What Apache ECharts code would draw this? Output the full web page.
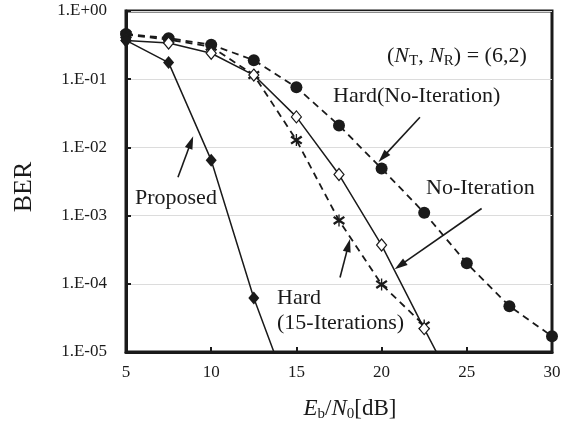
<!DOCTYPE html>
<html>
<head>
<meta charset="utf-8">
<script src="https://cdn.jsdelivr.net/npm/echarts@6/dist/echarts.min.js"></script>
<style>
  html, body { margin: 0; padding: 0; background: #fff; }
  #chart { width: 570px; height: 427px; }
</style>
</head>
<body>
<div id="chart"></div>
<script>
const chart = echarts.init(document.getElementById('chart'));

// Eb/N0 [dB]
const snr = [5, 7.5, 10, 12.5, 15, 17.5, 20, 22.5, 25, 27.5, 30];

// BER (values below 1e-5 are clipped by the axis)
const proposed = [0.37, 0.175, 0.0065, 6.2e-5, 1.3e-6];
const noIteration = [0.37, 0.34, 0.24, 0.115, 0.028, 0.0040, 3.7e-4, 2.2e-5, 1.4e-6];
const hard15 = [0.45, 0.38, 0.30, 0.115, 0.0128, 8.5e-4, 9.8e-5, 2.45e-5];
const hardNoIter = [0.46, 0.40, 0.32, 0.19, 0.076, 0.021, 0.0049, 0.0011, 2.0e-4, 4.7e-5, 1.7e-5];

const yTicks = [1, 1e-1, 1e-2, 1e-3, 1e-4, 1e-5];

// annotation arrows, [from, to] in data coordinates
const arrows = [
  [[22.25, 0.0277], [20.08, 0.0072]],
  [[25.87, 0.00127], [21.08, 1.86e-4]],
  [[8.05, 0.00365], [8.81, 0.0119]],
  [[17.56, 1.24e-4], [18.05, 3.66e-4]]
];

const FONT = '"Liberation Serif", "DejaVu Serif", serif';
const INK = '#1a1a1a';

const pairs = (ys) => ys.map((y, i) => [snr[i], y]);

const asterisk = 'path://M9,0 L11,0 L11,20 L9,20 Z M1,5.5 L3,2.5 L19,14.5 L17,17.5 Z M17,2.5 L19,5.5 L3,17.5 L1,14.5 Z';

const expLabel = (v) => {
  const e = Math.round(Math.log10(v));
  const s = e < 0 ? '-' : '+';
  const a = Math.abs(e);
  return '1.E' + s + (a < 10 ? '0' : '') + a;
};

const note = (text, x, y) => ({
  type: 'text', x, y,
  style: { text, font: '22px ' + FONT, fill: INK, align: 'left', verticalAlign: 'middle' }
});

chart.setOption({
  animation: false,
  backgroundColor: '#fff',
  grid: {
    left: 126, right: 18, top: 11, bottom: 75,
    show: true, borderColor: INK, borderWidth: 3
  },
  xAxis: {
    type: 'value',
    min: 5, max: 30, interval: 5,
    axisLine: { lineStyle: { color: INK, width: 3 } },
    axisTick: { inside: true, length: 5, lineStyle: { color: INK, width: 2 } },
    splitLine: { show: false },
    axisLabel: { fontFamily: FONT, fontSize: 17, color: INK, margin: 12 }
  },
  yAxis: {
    type: 'log',
    logBase: 10,
    min: 1e-5, max: 1,
    axisLine: { lineStyle: { color: INK, width: 3 } },
    axisTick: { inside: true, length: 5, lineStyle: { color: INK, width: 2 } },
    splitLine: { show: true, lineStyle: { color: '#dcdcdc', width: 1 } },
    minorTick: { show: false },
    axisLabel: {
      fontFamily: FONT, fontSize: 17, color: INK, margin: 19,
      formatter: (v) => (yTicks.some((t) => Math.abs(Math.log10(t) - Math.log10(v)) < 1e-6) ? expLabel(v) : '')
    }
  },
  series: [
    {
      name: 'Hard(No-Iteration)',
      type: 'line',
      data: pairs(hardNoIter),
      symbol: 'circle',
      symbolSize: 12,
      itemStyle: { color: INK },
      lineStyle: { color: INK, width: 1.8, type: [7, 5] },
      z: 3
    },
    {
      name: 'Hard(15-Iterations)',
      type: 'line',
      data: pairs(hard15),
      symbol: asterisk,
      symbolSize: 12,
      itemStyle: { color: INK },
      lineStyle: { color: INK, width: 1.8, type: [7, 5] },
      z: 4
    },
    {
      name: 'No-Iteration',
      type: 'line',
      data: pairs(noIteration),
      symbol: 'diamond',
      symbolSize: [10, 12],
      itemStyle: { color: '#fff', borderColor: INK, borderWidth: 1.2 },
      lineStyle: { color: INK, width: 1.5 },
      z: 5
    },
    {
      name: 'Proposed',
      type: 'line',
      data: pairs(proposed),
      symbol: 'diamond',
      symbolSize: [11, 13],
      itemStyle: { color: INK },
      lineStyle: { color: INK, width: 1.5 },
      z: 6,
      markLine: {
        silent: true,
        symbol: ['none', 'triangle'],
        symbolSize: [8, 13],
        lineStyle: { color: INK, width: 1.6, type: 'solid' },
        label: { show: false },
        data: arrows.map(([a, b]) => [{ coord: a }, { coord: b }])
      }
    }
  ],
  graphic: [
    {
      type: 'text', x: 387, y: 56,
      style: {
        text: '{n|(}{i|N}{sub|T}{n|, }{i|N}{sub|R}{n|) = (6,2)}',
        align: 'left', verticalAlign: 'middle',
        rich: {
          i: { fontFamily: FONT, fontStyle: 'italic', fontSize: 22, fill: INK },
          n: { fontFamily: FONT, fontSize: 22, fill: INK },
          sub: { fontFamily: FONT, fontSize: 15, fill: INK, padding: [10, 0, 0, 0] }
        }
      }
    },
    note('Hard(No-Iteration)', 333, 96),
    note('No-Iteration', 426, 188),
    note('Proposed', 135, 198),
    note('Hard', 277, 298),
    note('(15-Iterations)', 277, 323),
    {
      type: 'text', x: 24, y: 187, rotation: Math.PI / 2,
      style: { text: 'BER', font: '26px ' + FONT, fill: INK, align: 'center', verticalAlign: 'middle' }
    },
    {
      type: 'text', x: 350, y: 409,
      style: {
        text: '{i|E}{sub|b}{n|/}{i|N}{sub|0}{n|[dB]}',
        align: 'center', verticalAlign: 'middle',
        rich: {
          i: { fontFamily: FONT, fontStyle: 'italic', fontSize: 23, fill: INK },
          n: { fontFamily: FONT, fontSize: 23, fill: INK },
          sub: { fontFamily: FONT, fontSize: 15, fill: INK, padding: [11, 0, 0, 0] }
        }
      }
    }
  ]
});
</script>
</body>
</html>
